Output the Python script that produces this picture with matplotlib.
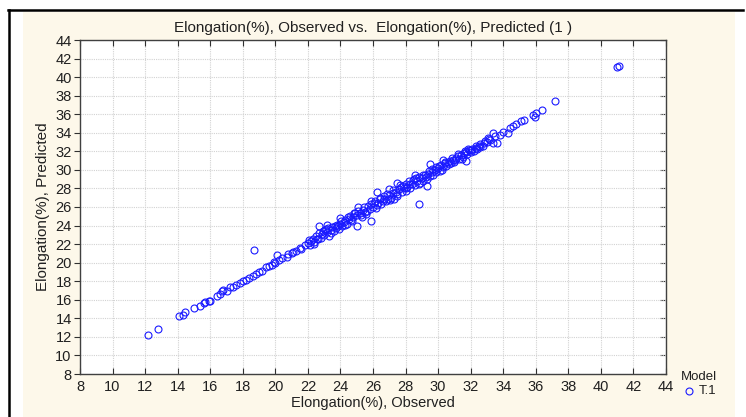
import matplotlib
matplotlib.use("Agg")
import matplotlib.pyplot as plt
from matplotlib.patches import Rectangle
from matplotlib.lines import Line2D

plt.rcParams['font.family'] = ['Liberation Sans', 'DejaVu Sans']

title = "Elongation(%), Observed vs.  Elongation(%), Predicted (1 )"
xlabel = "Elongation(%), Observed"
ylabel = "Elongation(%), Predicted"
legend_title = "Model"
series_name = "T.1"
ticks = list(range(8, 45, 2))

observed = [
    12.2, 12.8, 14.1, 14.3, 14.45, 15.0, 15.4, 15.6, 15.7, 15.9, 16.0, 16.4, 16.6, 16.7, 16.8,
    17.0, 17.2, 17.4, 17.6, 17.8, 18.0, 18.2, 18.4, 18.6, 18.7, 18.8, 19.0, 19.2, 19.4, 19.6,
    19.8, 19.9, 20.0, 20.1, 20.2, 20.4, 20.7, 20.8, 21.0, 21.1, 21.3, 21.5, 21.6, 21.8,
    22.0, 22.1, 22.2, 22.3, 22.4, 22.5, 22.6, 22.7, 22.7, 22.8, 22.9, 23.0, 23.1, 23.15, 23.2,
    23.3, 23.4, 23.5, 23.6, 23.7, 23.8, 23.9, 24.0, 24.0, 24.1, 24.2, 24.3, 24.4, 24.5, 24.6,
    24.7, 24.8, 24.9, 25.0, 25.0, 25.1, 25.2, 25.3, 25.4, 25.5, 25.6, 25.7, 25.8, 25.9, 25.9,
    26.0, 26.1, 26.2, 26.26, 26.3, 26.4, 26.5, 26.6, 26.7, 26.8, 26.9, 27.0, 27.0, 27.1, 27.2,
    27.3, 27.4, 27.5, 27.5, 27.6, 27.7, 27.8, 27.9, 28.0, 28.0, 28.1, 28.2, 28.3, 28.4, 28.5,
    28.6, 28.6, 28.7, 28.8, 28.8, 28.9, 29.0, 29.1, 29.2, 29.3, 29.3, 29.4, 29.5, 29.5, 29.6,
    29.7, 29.8, 29.9, 30.0, 30.1, 30.2, 30.3, 30.3, 30.4, 30.5, 30.6, 30.7, 30.8, 30.9, 31.0,
    31.1, 31.2, 31.3, 31.4, 31.5, 31.6, 31.7, 31.7, 31.8, 31.9, 32.0, 32.1, 32.2, 32.3, 32.4,
    32.5, 32.6, 32.8, 32.9, 33.0, 33.1, 33.2, 33.4, 33.4, 33.5, 33.6, 33.8, 34.0, 34.3, 34.4,
    34.6, 34.8, 35.1, 35.3, 35.8, 35.95, 36.0, 36.4, 37.2, 41.0, 41.1,
    22.05, 22.35, 22.55, 22.85, 23.05, 23.25, 23.45, 23.65, 23.85, 24.05, 24.25, 24.45, 24.65,
    24.85, 25.05, 25.25, 25.45, 25.65, 25.85, 26.05, 26.25, 26.45, 26.65, 26.85, 27.05, 27.25,
    27.45, 27.65, 27.85, 28.05, 28.25, 28.45, 28.65, 28.85, 29.05, 29.25, 29.45, 29.65, 29.85,
    30.05, 30.25, 30.45, 30.65, 30.85, 31.05, 31.25, 31.45, 31.65, 31.85, 32.05, 32.35, 32.55,
    32.75, 33.05,
]
predicted = [
    12.2, 12.8, 14.2, 14.4, 14.7, 15.1, 15.3, 15.6, 15.8, 15.9, 15.85, 16.45, 16.6, 16.9, 17.1,
    17.0, 17.35, 17.4, 17.6, 17.8, 18.0, 18.1, 18.4, 18.6, 21.4, 18.8, 19.0, 19.1, 19.5, 19.6,
    19.8, 20.1, 20.0, 20.8, 20.3, 20.5, 20.65, 20.9, 21.0, 21.2, 21.3, 21.6, 21.5, 21.9,
    22.1, 21.9, 22.3, 22.5, 22.2, 22.9, 22.6, 24.0, 23.2, 22.7, 23.4, 23.0, 23.6, 24.05, 23.3,
    22.9, 23.5, 23.8, 23.4, 23.7, 24.1, 23.6, 24.8, 24.2, 23.9, 24.4, 24.6, 24.2, 24.7, 25.0,
    24.5, 24.9, 25.3, 23.95, 25.1, 26.0, 25.4, 24.9, 25.7, 25.5, 25.2, 26.1, 25.8, 24.5, 26.3,
    26.0, 26.6, 25.9, 27.6, 26.4, 26.9, 26.3, 26.7, 27.2, 26.6, 26.9, 27.9, 27.3, 27.0, 27.5,
    26.9, 27.6, 28.6, 27.4, 27.9, 28.2, 27.6, 28.0, 28.5, 27.7, 28.2, 28.8, 28.1, 28.5, 29.0,
    29.5, 28.4, 28.8, 26.3, 29.2, 28.6, 29.1, 28.8, 29.4, 28.3, 29.0, 29.6, 30.6, 29.3, 29.8,
    29.5, 30.0, 29.8, 30.2, 29.9, 30.5, 31.1, 30.3, 30.7, 30.4, 30.8, 31.0, 30.7, 31.1, 30.9,
    31.3, 31.5, 31.2, 31.6, 31.4, 31.8, 31.0, 31.9, 31.7, 32.1, 31.9, 32.2, 32.0, 32.4, 32.3,
    32.6, 32.5, 32.9, 33.1, 33.0, 33.3, 33.2, 34.0, 32.9, 33.6, 32.95, 33.8, 34.1, 34.0, 34.5,
    34.7, 34.9, 35.3, 35.4, 35.9, 35.7, 36.1, 36.5, 37.4, 41.1, 41.2,
    22.4, 22.0, 22.5, 23.1, 23.5, 23.7, 23.2, 24.0, 23.9, 24.5, 24.1, 24.9, 24.6,
    25.4, 25.6, 25.1, 26.0, 25.6, 26.6, 26.4, 26.2, 27.0, 26.9, 27.4, 26.8, 27.8,
    27.2, 28.4, 28.3, 28.0, 28.5, 28.9, 29.1, 28.5, 29.5, 29.2, 29.9, 30.1, 30.3,
    30.4, 30.0, 30.9, 30.6, 31.3, 31.1, 31.7, 31.2, 32.0, 32.2, 32.1, 32.6, 32.8,
    32.6, 33.4,
]

W, H = 746, 417
fig = plt.figure(figsize=(W / 100, H / 100), dpi=100)
fig.patch.set_facecolor("white")

# cream panel and black border
fig.patches.append(Rectangle((23 / W, 0), (735 - 23) / W, 1 - 12 / H,
                             transform=fig.transFigure, facecolor="#FDF8EA",
                             edgecolor="none", zorder=-10))
fig.lines.append(Line2D([8 / W, 743 / W], [1 - 10 / H, 1 - 10 / H],
                        transform=fig.transFigure, color="black", lw=1.8, zorder=-5))
fig.lines.append(Line2D([9 / W, 9 / W], [0, 1 - 10 / H],
                        transform=fig.transFigure, color="black", lw=1.8, zorder=-5))

ax = fig.add_axes([80 / W, 1 - 374 / H, (666 - 80) / W, (374 - 40) / H])
ax.set_zorder(1)
ax.set_facecolor("white")
ax.plot(observed, predicted, linestyle="none", marker="o", markersize=5.0,
        markerfacecolor="none", markeredgecolor="#1a1aff", markeredgewidth=0.8,
        zorder=3)
ax.set_xlim(8, 44)
ax.set_ylim(8, 44)
ax.set_xticks(ticks)
ax.set_yticks(ticks)
ax.grid(True, color="#d2d2d2", linestyle=(0, (1, 1)), linewidth=0.8)
ax.set_axisbelow(True)
for s in ax.spines.values():
    s.set_color("#404040")
    s.set_linewidth(1.0)
ax.tick_params(axis="x", direction="in", top=True, length=4, width=0.8,
               colors="#303030", labelsize=10.5, pad=4)
ax.tick_params(axis="y", direction="out", right=False, length=4, width=0.8,
               colors="#303030", labelsize=10.5, pad=2)
ax.tick_params(axis="y", labelcolor="#202020")
ax.tick_params(axis="x", labelcolor="#202020")
# right-side inward ticks
ax2 = ax.secondary_yaxis("right")
ax2.set_yticks(ticks)
ax2.tick_params(direction="in", length=4, width=0.8, colors="#303030", labelright=False)
ax2.spines["right"].set_visible(False)

ax.set_xlabel(xlabel, fontsize=10.5, color="#202020", labelpad=2)
ax.set_ylabel(ylabel, fontsize=11, color="#202020", labelpad=4)
ax.set_title(title, fontsize=11, color="#202020", pad=6)

# legend
fig.text(681 / W, 1 - 377 / H, legend_title, fontsize=9.5, color="#202020",
         ha="left", va="center")
fig.lines.append(Line2D([689 / W], [1 - 391 / H], transform=fig.transFigure,
                        marker="o", markersize=5.0, markerfacecolor="none",
                        markeredgecolor="#1a1aff", markeredgewidth=0.8,
                        linestyle="none"))
fig.text(699 / W, 1 - 391 / H, series_name, fontsize=9.5, color="#202020",
         ha="left", va="center")

fig.savefig("out.png", dpi=100, facecolor=fig.get_facecolor())
